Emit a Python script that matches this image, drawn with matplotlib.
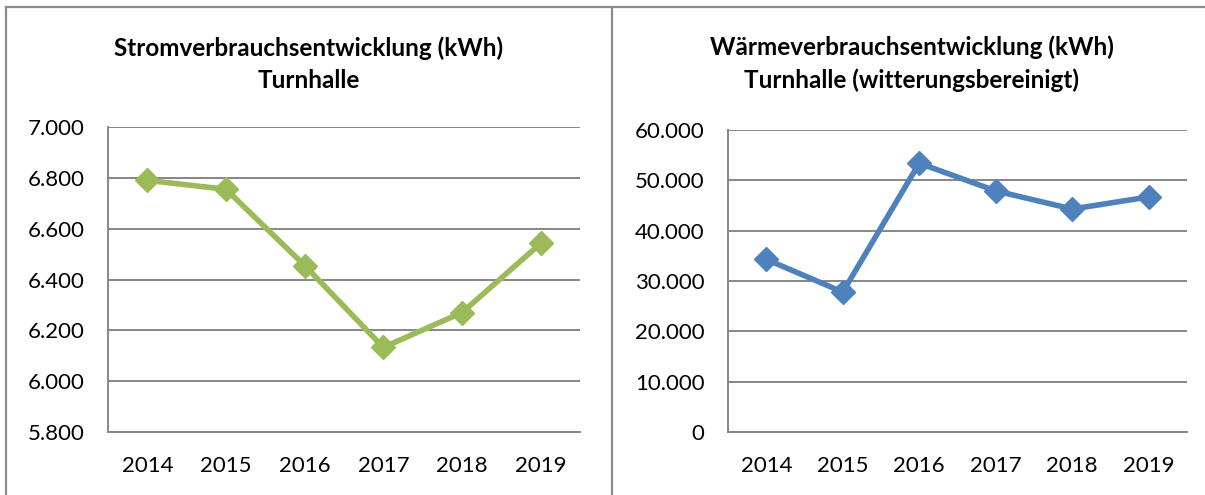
import matplotlib
matplotlib.use('Agg')
import matplotlib.pyplot as plt
from matplotlib.lines import Line2D
from matplotlib.ticker import FuncFormatter

# Daten
years = ['2014', '2015', '2016', '2017', '2018', '2019']
strom = [6790, 6755, 6455, 6133, 6270, 6542]
waerme = [34300, 27800, 53400, 47900, 44300, 46700]

plt.rcParams['font.family'] = ['Lato', 'DejaVu Sans']

W, H = 1205, 495
fig = plt.figure(figsize=(W / 100, H / 100), dpi=100)

grid_col = '#868686'
border_col = '#8c8c8c'


def de_format(v, pos):
    return f'{v:,.0f}'.replace(',', '.')


def setup_axes(ax, ylim, step, title, title_x):
    ax.set_xlim(-0.5, len(years) - 0.5)
    ax.set_ylim(*ylim)
    ax.set_yticks(range(ylim[0], ylim[1] + 1, step))
    ax.yaxis.set_major_formatter(FuncFormatter(de_format))
    ax.set_xticks(range(len(years)))
    ax.set_xticklabels(years)
    ax.tick_params(axis='y', length=0, pad=17, labelsize=16)
    ax.tick_params(axis='x', length=0, pad=17, labelsize=16)
    ax.grid(axis='y', color=grid_col, linewidth=1.4)
    ax.set_axisbelow(True)
    for s in ['top', 'right']:
        ax.spines[s].set_visible(False)
    for s in ['left', 'bottom']:
        ax.spines[s].set_color(grid_col)
        ax.spines[s].set_linewidth(1.4)
    fig.text(title_x / W, 1 - 64 / H, title, ha='center', va='center',
             fontsize=17.5, fontweight='bold', linespacing=1.5)


# linkes Diagramm: Strom
ax1 = fig.add_axes([108 / W, 63 / H, 472 / W, 305 / H])
x = range(len(years))
ax1.plot(x, strom, color='#9BBB59', linewidth=4, marker='D', markersize=12.5,
         clip_on=False)
setup_axes(ax1, (5800, 7000), 200,
           'Stromverbrauchsentwicklung (kWh)\nTurnhalle', 309)

# rechtes Diagramm: Waerme
ax2 = fig.add_axes([728 / W, 63 / H, 459 / W, 302 / H])
ax2.plot(x, waerme, color='#4F81BD', linewidth=4, marker='D', markersize=12.5,
         clip_on=False)
setup_axes(ax2, (0, 60000), 10000,
           'Wärmeverbrauchsentwicklung (kWh)\nTurnhalle (witterungsbereinigt)', 912)

# Rahmenlinien
def px_line(x0, y0, x1, y1):
    fig.add_artist(Line2D([x0 / W, x1 / W], [1 - y0 / H, 1 - y1 / H],
                          color=border_col, linewidth=1.6,
                          transform=fig.transFigure))


px_line(6, 7, W, 7)
px_line(6, 7, 6, H)
px_line(612, 7, 612, H)

fig.savefig('out.png', dpi=100, facecolor='white')
